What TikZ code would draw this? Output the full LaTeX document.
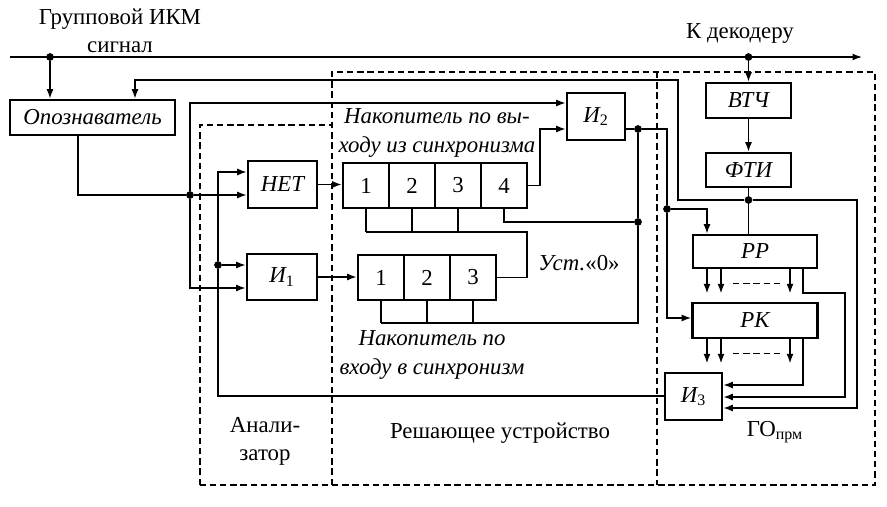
\documentclass[tikz,border=0pt]{standalone}
\usepackage{fontspec}
\setmainfont{Liberation Serif}
\usepackage{tikz}
\usetikzlibrary{positioning,arrows.meta,calc}
\tikzset{
  flowarrow/.style={-{Latex[length=1.9mm,width=1.4mm]}, thick},
  wire/.style={thick},
  frame/.style={thick, dash pattern=on 3.6pt off 2.2pt},
  unitbox/.style={draw, line width=1.5pt, fill=white, align=center, font=\fsz\itshape},
  cellbox/.style={draw, line width=1.5pt, fill=white, minimum width=0.92cm, minimum height=0.9cm},
  junction/.style={circle, fill, inner sep=0pt, minimum size=4.4pt}
}
\newcommand{\fsz}{\fontsize{13}{16}\selectfont}

\begin{document}
\begin{tikzpicture}[x=0.02cm, y=-0.02cm, >=Latex, every node/.style={font=\fsz}]
  \useasboundingbox (0,0) rectangle (887,507);

  % dashed frames
  \draw[frame] (200,485) -- (200,125) -- (332,125);
  \draw[frame] (332,485) -- (332,72) -- (875,72) -- (875,485) -- (200,485);
  \draw[frame] (657,72) -- (657,485);

  % blocks
  \node[unitbox, minimum width=3.3cm, minimum height=0.7cm] (opozn) at (92.5,117.5) {Опознаватель};
  \node[unitbox, minimum width=1.38cm, minimum height=0.94cm] (net) at (282.5,184.5) {НЕТ};
  \node[unitbox, minimum width=1.4cm, minimum height=0.92cm] (i1) at (282,277) {И\textsubscript{\upshape 1}};
  \node[unitbox, minimum width=1.16cm, minimum height=0.94cm] (i2) at (596,116.5) {И\textsubscript{\upshape 2}};
  \node[unitbox, minimum width=1.14cm, minimum height=0.94cm] (i3) at (693.5,396.5) {И\textsubscript{\upshape 3}};
  \node[unitbox, minimum width=1.7cm, minimum height=0.7cm] (vtch) at (748.5,100.5) {ВТЧ};
  \node[unitbox, minimum width=1.7cm, minimum height=0.68cm] (fti) at (748.5,170) {ФТИ};
  \node[unitbox, minimum width=2.48cm, minimum height=0.66cm] (rr) at (755,251.5) {РР};
  \node[unitbox, minimum width=2.5cm, minimum height=0.7cm] (rk) at (755,320.5) {РК};

  % registers
  \foreach \i/\x in {1/366,2/412,3/458,4/504}
    \node[cellbox] (u\i) at (\x,185.5) {\i};
  \foreach \i/\x in {1/381,2/427,3/473}
    \node[cellbox] (l\i) at (\x,277.5) {\i};

  % labels
  \node[align=center] (sigtxt) at (120,31) {Групповой ИКМ\\сигнал};
  \node (dectxt) at (740,33) {К декодеру};
  \node[align=center, font=\fsz\itshape] (nakout) at (437,133) {Накопитель по вы-\\ходу из синхронизма};
  \node[align=center, font=\fsz\itshape] (nakin) at (432,355) {Накопитель по\\входу в синхронизм};
  \node (ust) at (579,263) {\itshape Уст.\upshape«0»};
  \node[align=center] (analyz) at (265,441) {Анали-\\затор};
  \node (reshu) at (500,433) {Решающее устройство};
  \node (gotxt) at (775,432) {ГО\textsubscript{прм}};

  % group signal
  \coordinate (sigin) at (10,57);
  \coordinate (sigout) at (862,57);
  \node[junction] (tapA) at (50,57) {};
  \node[junction] (tapB) at (748.5,57) {};
  \draw[flowarrow] (sigin) -- (sigout);
  \draw[flowarrow] (tapA) -- (tapA |- opozn.north);
  \draw[flowarrow] (tapB) -- (vtch);
  \draw[flowarrow] (vtch) -- (fti);

  % FTI output
  \node[junction] (jF) at (748.5,200) {};
  \draw[wire] (fti) -- (jF) -- (jF |- rr.north);
  \coordinate (fb1) at (678,80);
  \coordinate (fb2) at (135,80);
  \draw[flowarrow] (jF) -| (fb1) -- (fb2) -- (fb2 |- opozn.north);
  \coordinate (fb3) at (857,408);
  \draw[flowarrow] (jF) -| (fb3) -- (fb3 -| i3.east);

  % Opoznavatel output
  \node[junction] (jO) at (190,195) {};
  \coordinate (oo) at (78,195);
  \draw[wire] (oo |- opozn.south) -- (oo) -- (jO);
  \draw[flowarrow] (jO) -- (jO -| net.west);
  \coordinate (jOup) at (190,103);
  \draw[flowarrow] (jO) -- (jOup) -- (jOup -| i2.west);
  \coordinate (jOdn) at (190,288);
  \draw[flowarrow] (jO) -- (jOdn) -- (jOdn -| i1.west);

  % I3 output
  \node[junction] (jI) at (218,265) {};
  \coordinate (ib) at (218,396);
  \coordinate (it) at (218,172);
  \draw[wire] (ib -| i3.west) -- (ib) -- (jI);
  \draw[flowarrow] (jI) -- (jI -| i1.west);
  \draw[flowarrow] (jI) -- (it) -- (it -| net.west);

  % into registers
  \draw[flowarrow] (net.east) -- (net.east -| u1.west);
  \draw[flowarrow] (i1.east) -- (i1.east -| l1.west);
  \coordinate (u4r) at (540,129);
  \draw[flowarrow] (u4.east) -| (u4r) -- (u4r -| i2.west);

  % I2 output
  \node[junction] (jR) at (638,129) {};
  \node[junction] (jS) at (667,209) {};
  \node[junction] (jU) at (638,222) {};
  \draw[wire] (jR -| i2.east) -- (jR) -| (jS);
  \coordinate (rrin) at (707,209);
  \draw[flowarrow] (jS) -- (rrin) -- (rrin |- rr.north);
  \coordinate (rkin) at (667,318);
  \draw[flowarrow] (jS) -- (rkin) -- (rkin -| rk.west);
  \draw[wire] (jR) -- (jU);
  \coordinate (resl) at (638,323);
  \draw[wire] (jU) -- (resl) -- (resl -| l1.south);
  \foreach \i in {1,2,3}
    \draw[wire] (l\i.south) -- (l\i.south |- resl);
  \draw[wire] (u4.south) |- (jU);

  % upper register to lower register
  \coordinate (ub) at (527,232);
  \foreach \i in {1,2,3}
    \draw[wire] (u\i.south) -- (u\i.south |- ub);
  \draw[wire] (u1.south |- ub) -- (ub) |- (l3.east);

  % RR and RK outputs
  \foreach \n in {rr,rk}{
    \foreach \dx/\k in {-48/a,-34/b,35/c}{
      \coordinate (\n\k) at ($(\n.south)+(\dx,24)$);
      \draw[flowarrow] (\n\k |- \n.south) -- (\n\k);
    }
    \draw[frame] ($(\n b)+(12,-10)$) -- ($(\n c)+(-10,-10)$);
  }
  \coordinate (rro) at (803,293);
  \coordinate (rri) at (845,397);
  \draw[flowarrow] (rro |- rr.south) -- (rro) -| (rri) -- (rri -| i3.east);
  \coordinate (rko) at (803,385);
  \draw[flowarrow] (rko |- rk.south) -- (rko) -- (rko -| i3.east);
\end{tikzpicture}
\end{document}
